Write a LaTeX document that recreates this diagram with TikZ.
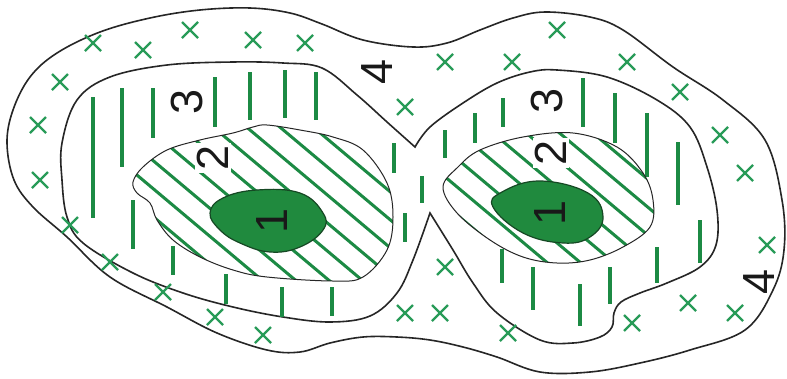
\documentclass[tikz,border=0pt]{standalone}
\usepackage{fontspec}
\setmainfont{Liberation Sans}
\definecolor{hatch}{RGB}{28,138,68}
\definecolor{blobfill}{RGB}{32,138,62}
\definecolor{blobline}{RGB}{22,72,36}
\definecolor{crossc}{RGB}{40,155,88}
\newcommand{\rotnum}[1]{\rotatebox{90}{#1}}
\begin{document}
\begin{tikzpicture}[x=1pt,y=-1pt,
  contour/.style={draw=black!85,line width=1.6pt},
  thincontour/.style={draw=black!85,line width=1.0pt},
  dashmark/.style={draw=hatch,line width=3.1pt},
  hatchline/.style={draw=hatch,line width=3.0pt},
  crossmark/.style={draw=crossc,line width=2.3pt},
  numlabel/.style={font=\fontsize{45}{45}\selectfont,inner sep=0pt,text=black!90},
  blob/.style={fill=blobfill,draw=blobline,line width=1.2pt}]
\useasboundingbox[fill=white] (0,0) rectangle (787,378);

% outer contour (boundary of zone 4)
\draw[contour] plot[smooth cycle,tension=0.6] coordinates {
 (7,143) (13,110) (30,77) (57,53) (100,32) (150,18) (200,10) (250,8) (290,13) (322,24)
 (363,40) (413,47) (447,43) (480,30) (513,18) (545,12) (590,17) (623,30) (673,67)
 (723,100) (765,140) (782,200) (784,250) (773,290) (745,330) (690,350) (640,363)
 (590,372) (540,372) (497,357) (463,347) (430,340) (397,337) (363,337) (330,343)
 (300,352) (267,350) (217,333) (167,307) (110,277) (67,237) (33,207) (14,180)};

% contour of zone 3 (two lobes joined, with cusps)
\draw[contour] plot[smooth,tension=0.6] coordinates {
 (430,213) (413,260) (397,293) (370,316) (330,322) (283,317) (233,307) (183,293)
 (133,273) (83,243) (67,217) (62,180) (62,143) (77,100) (110,77) (167,65) (233,62)
 (283,63) (322,68) (357,95) (387,122) (415,147)}
 -- plot[smooth,tension=0.6] coordinates {
 (415,147) (430,127) (463,103) (497,83) (530,72) (557,70) (607,77) (657,100) (690,127)
 (707,167) (717,210) (716,245) (700,267) (667,283) (640,293) (621,302) (614,313)
 (612,327) (600,337) (573,343) (540,340) (497,313) (473,283) (453,250) (430,213)}
 -- cycle;

% zone 3 dashes
\foreach \x/\ya/\yb [count=\i] in {93/97/218,122/88/167,153/88/138,215/77/127,250/72/120,
  285/70/118,316/72/120,133/200/249,173/246/275,226/274/304,282/287/317,332/287/316,
  394/143/173,422/176/203,405/213/242,445/130/158,475/113/143,503/98/127,502/249/283,
  583/78/127,615/93/143,647/113/177,678/142/205,700/220/263,657/247/283,610/267/304,
  580/284/326,533/267/310}{
  \coordinate (da\i) at (\x,\ya);
  \coordinate (db\i) at (\x,\yb);
  \draw[dashmark] (da\i) -- (db\i);
}

% zone 4 crosses
\foreach \x/\y [count=\i] in {93/43,143/50,190/30,253/40,305/43,60/82,38/125,40/180,
  70/225,110/262,163/292,215/317,263/335,445/62,512/62,405/107,445/267,405/313,440/313,
  508/333,557/30,627/62,680/92,720/135,745/173,767/245,632/323,688/303,735/313}{
  \coordinate (c\i) at (\x,\y);
  \draw[crossmark] ([shift={(-8,-8)}]c\i) -- ([shift={(8,8)}]c\i);
  \draw[crossmark] ([shift={(-8,8)}]c\i) -- ([shift={(8,-8)}]c\i);
}

% zone 2 hatching, left lobe
\begin{scope}
\clip plot[smooth cycle,tension=0.6] coordinates {
 (133,182) (143,167) (167,150) (200,140) (233,133) (253,127) (267,125) (300,130)
 (333,137) (363,150) (387,183) (393,217) (387,250) (363,277) (333,281) (267,277)
 (233,270) (200,257) (173,240) (157,220) (150,203) (137,193)};
\foreach \k in {-10,...,5}{
  \draw[hatchline] (110,{92.4+60+28*\k}) -- (410,{344.4+60+28*\k});
}
\end{scope}

% zone 2 hatching, right lobe
\begin{scope}
\clip plot[smooth cycle,tension=0.6] coordinates {
 (443,187) (458,167) (480,150) (523,137) (573,133) (617,147) (643,173) (653,200)
 (650,227) (623,247) (590,260) (557,263) (523,257) (490,240) (457,213)};
\foreach \k in {-9,...,4}{
  \draw[hatchline] (430,{361.2-197+28*\k}) -- (670,{562.8-197+28*\k});
}
\end{scope}

% zone 1 blobs
\draw[blob] plot[smooth cycle,tension=0.7] coordinates {
 (210,213) (223,198) (257,190) (300,193) (323,213) (323,230) (300,247) (270,252)
 (240,243) (220,230)};
\draw[blob] plot[smooth cycle,tension=0.7] coordinates {
 (493,207) (502,192) (540,181) (588,193) (603,217) (590,237) (563,243) (523,233)};

% zone 2 contours
\draw[thincontour] plot[smooth cycle,tension=0.6] coordinates {
 (133,182) (143,167) (167,150) (200,140) (233,133) (253,127) (267,125) (300,130)
 (333,137) (363,150) (387,183) (393,217) (387,250) (363,277) (333,281) (267,277)
 (233,270) (200,257) (173,240) (157,220) (150,203) (137,193)};
\draw[thincontour] plot[smooth cycle,tension=0.6] coordinates {
 (443,187) (458,167) (480,150) (523,137) (573,133) (617,147) (643,173) (653,200)
 (650,227) (623,247) (590,260) (557,263) (523,257) (490,240) (457,213)};

% labels
\node[numlabel] (l1a) at (272,221) {\rotnum{1}};
\node[numlabel] (l1b) at (550,213) {\rotnum{1}};
\node[numlabel,fill=white,inner sep=2pt] (l2a) at (213,158) {\rotnum{2}};
\node[numlabel,fill=white,inner sep=2pt] (l2b) at (551,153) {\rotnum{2}};
\node[numlabel] (l3a) at (187,102) {\rotnum{3}};
\node[numlabel] (l3b) at (547,101) {\rotnum{3}};
\node[numlabel] (l4a) at (377,72) {\rotnum{4}};
\node[numlabel] (l4b) at (759,282) {\rotnum{4}};
\end{tikzpicture}
\end{document}
